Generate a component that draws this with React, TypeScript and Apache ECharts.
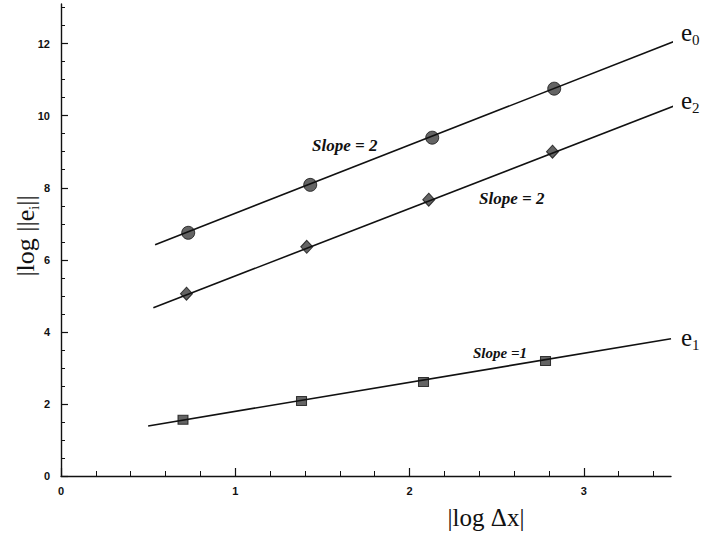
import React, { useEffect, useRef } from "react";
import * as echarts from "echarts";

// Measured norms of the three error components against |log Δx|
const e0X = [0.73, 1.43, 2.13, 2.83];
const e0Y = [6.75, 8.08, 9.39, 10.75];
const e2X = [0.72, 1.41, 2.11, 2.82];
const e2Y = [5.06, 6.36, 7.67, 9.0];
const e1X = [0.7, 1.38, 2.08, 2.78];
const e1Y = [1.56, 2.08, 2.61, 3.19];

// Fitted straight lines (end points)
const e0Fit = [[0.54, 6.42], [3.56, 12.14]];
const e2Fit = [[0.53, 4.67], [3.55, 10.33]];
const e1Fit = [[0.5, 1.39], [3.5, 3.81]];

// Axis ticks
const xMajor = [0, 1, 2, 3];
const xMinor = [0.2, 0.4, 0.6, 0.8, 1.2, 1.4, 1.6, 1.8, 2.2, 2.4, 2.6, 2.8, 3.2, 3.4];
const yMajor = [0, 2, 4, 6, 8, 10, 12];
const yMinor = [0.5, 1, 1.5, 2.5, 3, 3.5, 4.5, 5, 5.5, 6.5, 7, 7.5, 8.5, 9, 9.5, 10.5, 11, 11.5, 12.5, 13];

const SERIF = "'Liberation Serif', 'Times New Roman', serif";
const SANS = "'Liberation Sans', Arial, sans-serif";
const INK = "#111";

const pts = (xs: number[], ys: number[]) => xs.map((x, i) => [x, ys[i]]);

const endRich = {
  e: { fontFamily: SERIF, fontSize: 25, color: INK, lineHeight: 30, verticalAlign: "middle" as const },
  s: { fontFamily: SERIF, fontSize: 15, color: INK, lineHeight: 30, verticalAlign: "bottom" as const },
};

const fitSeries = (name: string, fit: number[][], sub: string, offset: number[]) => ({
  name: name + "-fit",
  type: "line" as const,
  clip: false,
  silent: true,
  showSymbol: false,
  symbol: "none",
  lineStyle: { color: INK, width: 1.6 },
  data: fit,
  endLabel: {
    show: true,
    distance: 8,
    offset,
    formatter: `{e|e}{s|${sub}}`,
    rich: endRich,
  },
});

const markerStyle = { color: "#3d3d3d", borderColor: INK, borderWidth: 1 };

const slopeFont = (size: number) => `italic bold ${size}px ${SERIF}`;

export default function App() {
  const ref = useRef<HTMLDivElement>(null);

  useEffect(() => {
    if (!ref.current) return;
    const chart = echarts.init(ref.current, undefined, { renderer: "svg" });
    const tickLabel = { fontFamily: SANS, fontWeight: "bold" as const, fontSize: 11, color: INK };

    chart.setOption({
      animation: false,
      backgroundColor: "#fff",
      grid: { left: 61, top: 4, right: 44, bottom: 61 },
      xAxis: [
        {
          type: "value",
          min: 0,
          max: 3.5,
          position: "bottom",
          axisLine: { show: true, lineStyle: { color: INK, width: 1.4 } },
          axisTick: { show: true, inside: true, length: 8, customValues: xMajor, lineStyle: { color: INK, width: 1.2 } },
          axisLabel: { customValues: xMajor, margin: 9, ...tickLabel },
          splitLine: { show: false },
        },
        {
          type: "value",
          min: 0,
          max: 3.5,
          position: "bottom",
          axisLine: { show: false },
          axisTick: { show: true, inside: true, length: 5, customValues: xMinor, lineStyle: { color: INK, width: 1 } },
          axisLabel: { show: false },
          splitLine: { show: false },
        },
      ],
      yAxis: [
        {
          type: "value",
          min: 0,
          max: 13.1,
          position: "left",
          axisLine: { show: true, lineStyle: { color: INK, width: 1.4 } },
          axisTick: { show: true, inside: true, length: 7, customValues: yMajor, lineStyle: { color: INK, width: 1.2 } },
          axisLabel: { customValues: yMajor, margin: 11, ...tickLabel },
          splitLine: { show: false },
        },
        {
          type: "value",
          min: 0,
          max: 13.1,
          position: "left",
          axisLine: { show: false },
          axisTick: { show: true, inside: true, length: 4, customValues: yMinor, lineStyle: { color: INK, width: 1 } },
          axisLabel: { show: false },
          splitLine: { show: false },
        },
      ],
      series: [
        fitSeries("e0", e0Fit, "0", [0, -9]),
        fitSeries("e2", e2Fit, "2", [0, -6]),
        fitSeries("e1", e1Fit, "1", [2, -1]),
        {
          name: "e0",
          type: "scatter",
          symbol: "circle",
          symbolSize: 13,
          itemStyle: markerStyle,
          data: pts(e0X, e0Y),
        },
        {
          name: "e2",
          type: "scatter",
          symbol: "diamond",
          symbolSize: [12, 13],
          itemStyle: markerStyle,
          data: pts(e2X, e2Y),
        },
        {
          name: "e1",
          type: "scatter",
          symbol: "rect",
          symbolSize: [10, 9],
          itemStyle: markerStyle,
          data: pts(e1X, e1Y),
        },
      ],
      graphic: [
        {
          type: "text",
          x: 25,
          y: 236,
          rotation: Math.PI / 2,
          style: {
            text: "{a||log ||e}{b|i}{a|||}",
            rich: {
              a: { fontFamily: SERIF, fontSize: 26, fill: INK, lineHeight: 32, verticalAlign: "middle" },
              b: { fontFamily: SERIF, fontSize: 14, fill: INK, lineHeight: 32, verticalAlign: "bottom" },
            },
            align: "center",
            verticalAlign: "middle",
          },
        },
        {
          type: "text",
          x: 486,
          y: 517,
          style: {
            text: "|log Δx|",
            font: `25px ${SERIF}`,
            fill: INK,
            align: "center",
            verticalAlign: "middle",
          },
        },
        {
          type: "text",
          x: 312,
          y: 145,
          style: { text: "Slope = 2", font: slopeFont(17), fill: INK, verticalAlign: "middle" },
        },
        {
          type: "text",
          x: 479,
          y: 198,
          style: { text: "Slope = 2", font: slopeFont(17), fill: INK, verticalAlign: "middle" },
        },
        {
          type: "text",
          x: 473,
          y: 353,
          style: { text: "Slope =1", font: slopeFont(15), fill: INK, verticalAlign: "middle" },
        },
      ],
    });

    return () => chart.dispose();
  }, []);

  return (
    <div
      ref={ref}
      style={{ position: "absolute", left: 0, top: 0, width: 715, height: 537, background: "#fff" }}
    />
  );
}
